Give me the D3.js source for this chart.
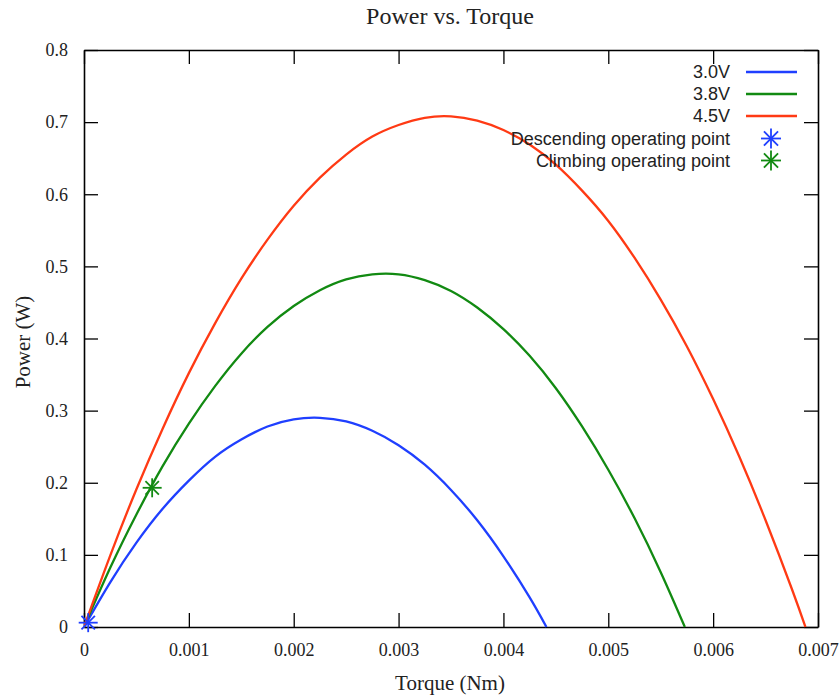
<!DOCTYPE html>
<html><head><meta charset="utf-8">
<script src="https://cdn.jsdelivr.net/npm/d3@7"></script>
<style>body{margin:0;background:#fff}svg{display:block}</style>
</head><body>
<svg id="chart" width="839" height="698"></svg>
<script>
// Data
const torque30 = [0,0.00025,0.0005,0.00075,0.001,0.00125,0.0015,0.00175,0.002,0.00225,0.0025,0.00275,0.003,0.00325,0.0035,0.00375,0.004,0.00425,0.00441];
const power30  = [0,0.062,0.117,0.164,0.203,0.236,0.260,0.278,0.288,0.290,0.285,0.272,0.252,0.225,0.190,0.148,0.098,0.041,0];
const torque38 = [0,0.00025,0.0005,0.00075,0.001,0.00125,0.0015,0.00175,0.002,0.00225,0.0025,0.00275,0.003,0.00325,0.0035,0.00375,0.004,0.00425,0.0045,0.00475,0.005,0.00525,0.0055,0.00573];
const power38  = [0,0.082,0.156,0.223,0.282,0.334,0.379,0.416,0.445,0.467,0.482,0.489,0.489,0.481,0.466,0.443,0.413,0.376,0.331,0.278,0.218,0.151,0.076,0];
const torque45 = [0,0.00025,0.0005,0.00075,0.001,0.00125,0.0015,0.00175,0.002,0.00225,0.0025,0.00275,0.003,0.00325,0.0035,0.00375,0.004,0.00425,0.0045,0.00475,0.005,0.00525,0.0055,0.00575,0.006,0.00625,0.0065,0.00675,0.00688];
const power45  = [0,0.099,0.191,0.275,0.352,0.421,0.483,0.537,0.584,0.623,0.655,0.680,0.696,0.706,0.708,0.702,0.689,0.669,0.641,0.605,0.563,0.512,0.454,0.389,0.316,0.236,0.148,0.053,0];
const seriesNames = ["3.0V","3.8V","4.5V"];
const pointNames = ["Descending operating point","Climbing operating point"];
const pointTorque = [0.00004, 0.00065];
const pointPower  = [0.006, 0.193];
const xTicks = [0,0.001,0.002,0.003,0.004,0.005,0.006,0.007];
const yTicks = [0,0.1,0.2,0.3,0.4,0.5,0.6,0.7,0.8];
const xTickLabels = ["0","0.001","0.002","0.003","0.004","0.005","0.006","0.007"];
const yTickLabels = ["0","0.1","0.2","0.3","0.4","0.5","0.6","0.7","0.8"];

const colors = ["#1f3fff","#128a12","#ff3a14"];
const ptColors = ["#1f3fff","#128a12"];

const svg = d3.select("#chart");
const L = 84, R = 818, T = 50, B = 627;
const x = d3.scaleLinear().domain([0,0.007]).range([L,R]);
const y = d3.scaleLinear().domain([0,0.8]).range([B,T]);
const serif = "'Liberation Serif','Times New Roman',serif";
const sans = "'Liberation Sans',Arial,sans-serif";

// axes
const tick = 14;
const gB = svg.append("g").attr("transform",`translate(0,${B})`)
  .call(d3.axisBottom(x).tickValues(xTicks).tickFormat((d,i)=>xTickLabels[i]).tickSizeInner(-tick).tickSizeOuter(0).tickPadding(16));
const gT = svg.append("g").attr("transform",`translate(0,${T})`)
  .call(d3.axisTop(x).tickValues(xTicks).tickFormat("").tickSizeInner(-tick).tickSizeOuter(0));
const gL = svg.append("g").attr("transform",`translate(${L},0)`)
  .call(d3.axisLeft(y).tickValues(yTicks).tickFormat((d,i)=>yTickLabels[i]).tickSizeInner(-tick).tickSizeOuter(0).tickPadding(16));
const gR = svg.append("g").attr("transform",`translate(${R},0)`)
  .call(d3.axisRight(y).tickValues(yTicks).tickFormat("").tickSizeInner(-tick).tickSizeOuter(0));
[gB,gT,gL,gR].forEach(g=>{
  g.selectAll("path.domain").attr("stroke","#000").attr("stroke-width",1.6);
  g.selectAll(".tick line").attr("stroke","#000").attr("stroke-width",1.3);
  g.selectAll("text").attr("font-family",serif).attr("font-size",18).attr("fill","#222");
});

// curves
const torques = [torque30,torque38,torque45];
const powers = [power30,power38,power45];
const line = d3.line().x(d=>x(d[0])).y(d=>y(d[1])).curve(d3.curveNatural);
svg.append("clipPath").attr("id","clip").append("rect").attr("x",L).attr("y",T).attr("width",R-L).attr("height",B-T+2);
const gC = svg.append("g").attr("clip-path","url(#clip)");
powers.forEach((p,i)=>{
  const pts = torques[i].map((t,j)=>[t,p[j]]);
  gC.append("path").attr("d",line(pts)).attr("fill","none").attr("stroke",colors[i]).attr("stroke-width",2.3);
});

// asterisk markers
function star(g,cx,cy,r,col){
  [0,45,90,135].forEach(deg=>{
    const rad = deg*Math.PI/180;
    g.append("line").attr("x1",cx-r*Math.cos(rad)).attr("y1",cy-r*Math.sin(rad))
      .attr("x2",cx+r*Math.cos(rad)).attr("y2",cy+r*Math.sin(rad))
      .attr("stroke",col).attr("stroke-width",1.8);
  });
}
pointTorque.forEach((t,i)=>star(svg,x(t),y(pointPower[i]),9.5,ptColors[i]));

// legend
const legX = 730, legY0 = 72, legDY = 22;
seriesNames.forEach((n,i)=>{
  const yy = legY0 + i*legDY;
  svg.append("text").attr("x",legX).attr("y",yy).attr("dy","0.36em").attr("text-anchor","end")
    .attr("font-family",sans).attr("font-size",18).attr("fill","#222").text(n);
  svg.append("line").attr("x1",746).attr("x2",797).attr("y1",yy).attr("y2",yy)
    .attr("stroke",colors[i]).attr("stroke-width",2.3);
});
pointNames.forEach((n,i)=>{
  const yy = legY0 + (i+3)*legDY + 0.5;
  svg.append("text").attr("x",legX).attr("y",yy).attr("dy","0.36em").attr("text-anchor","end")
    .attr("font-family",sans).attr("font-size",18).attr("fill","#222").text(n);
  star(svg,771,yy,10,ptColors[i]);
});

// titles
svg.append("text").attr("x",450).attr("y",24).attr("text-anchor","middle")
  .attr("font-family",serif).attr("font-size",24).attr("fill","#222").text("Power vs. Torque");
svg.append("text").attr("x",450).attr("y",690).attr("text-anchor","middle")
  .attr("font-family",serif).attr("font-size",21).attr("fill","#222").text("Torque (Nm)");
svg.append("text").attr("transform","translate(30,342) rotate(-90)").attr("text-anchor","middle")
  .attr("font-family",serif).attr("font-size",21).attr("fill","#222").text("Power (W)");
</script>
</body></html>
